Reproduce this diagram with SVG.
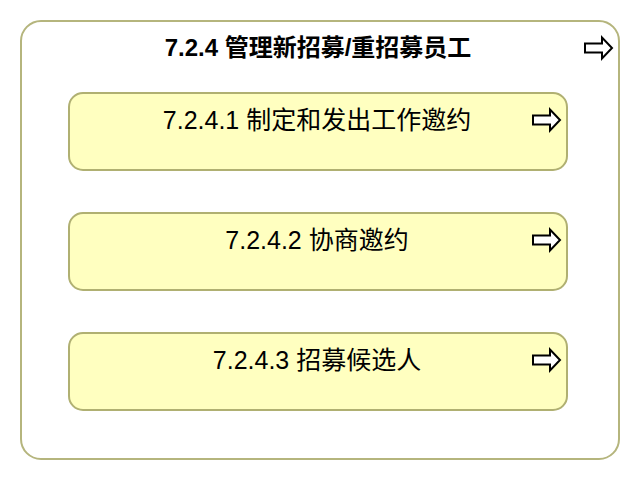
<svg xmlns="http://www.w3.org/2000/svg" width="640" height="480" viewBox="0 0 640 480">
<defs>
<style>
.outer{fill:#ffffff;stroke:#b5b57d;stroke-width:2}
.box{fill:#ffffc0;stroke:#b0b072;stroke-width:2}
.t{font-family:"Liberation Sans","Noto Sans CJK SC",sans-serif;fill:#000;text-anchor:middle}
.title{font-size:24px;font-weight:bold}
.lbl{font-size:25px}
.arr{fill:#fff;stroke:#000;stroke-width:2;stroke-linejoin:miter}
</style>
<path id="arrow" d="M0,-4.5 H17 V-10.5 L27,0 L17,10.5 V4.5 H0 Z"/>
</defs>
<g id="group-7.2.4">
<rect class="outer" x="21" y="21" width="598" height="438" rx="20" ry="20"/>
<text class="t title" x="318" y="56">7.2.4 管理新招募/重招募员工</text>
<use href="#arrow" class="arr" x="585" y="48"/>
</g>
<g id="node-7.2.4.1">
<rect class="box" x="69" y="93" width="498" height="77" rx="14" ry="14"/>
<text class="t lbl" x="317" y="129">7.2.4.1 制定和发出工作邀约</text>
<use href="#arrow" class="arr" x="533" y="120"/>
</g>
<g id="node-7.2.4.2">
<rect class="box" x="69" y="213" width="498" height="77" rx="14" ry="14"/>
<text class="t lbl" x="317" y="249">7.2.4.2 协商邀约</text>
<use href="#arrow" class="arr" x="533" y="240"/>
</g>
<g id="node-7.2.4.3">
<rect class="box" x="69" y="333" width="498" height="77" rx="14" ry="14"/>
<text class="t lbl" x="317" y="369">7.2.4.3 招募候选人</text>
<use href="#arrow" class="arr" x="533" y="360"/>
</g>
<g id="connectors"></g>
</svg>
